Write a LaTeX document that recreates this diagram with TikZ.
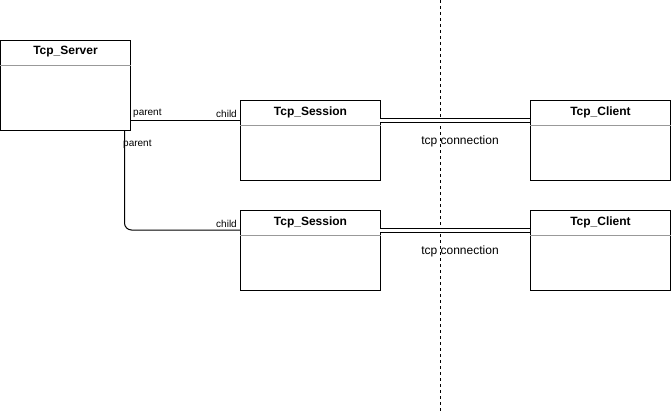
\documentclass[tikz,border=0pt]{standalone}
\usepackage{fontspec}
\setmainfont{Liberation Sans}
\begin{document}
\begin{tikzpicture}[x=1pt,y=-1pt,
  classbox/.style={draw,line width=1pt,fill=white,minimum width=#1,inner sep=0pt,anchor=north west},
  classbox/.default=140pt,
  hdr/.style={font=\fontsize{12}{14}\selectfont\bfseries},
  lbl/.style={font=\fontsize{10}{12}\selectfont,inner sep=0pt},
  conn/.style={font=\fontsize{12}{14}\selectfont,inner sep=0pt},
  divider/.style={draw=gray!80,line width=0.8pt},
  link/.style={line width=1pt},
  dbl/.style={double,double distance=3pt,line width=1pt}]
\useasboundingbox (0,0) rectangle (671,412);
\fill[white] (0,0) rectangle (671,412);
% dashed separator
\coordinate (dtop) at (440.5,0);
\coordinate (dbot) at (440.5,412);
\draw[line width=1pt,dash pattern=on 3pt off 3pt] (dtop) -- (dbot);
% boxes
\node[classbox=130pt,minimum height=90pt] (server) at (0,40) {};
\node[classbox,minimum height=80pt] (sess1) at (240,100) {};
\node[classbox,minimum height=80pt] (sess2) at (240,210) {};
\node[classbox,minimum height=80pt] (cli1) at (530,100) {};
\node[classbox,minimum height=80pt] (cli2) at (530,210) {};
% headers
\foreach \b/\t in {server/Tcp\_Server,sess1/Tcp\_Session,sess2/Tcp\_Session,cli1/Tcp\_Client,cli2/Tcp\_Client}{
  \draw[divider] ([yshift=-25pt]\b.north west) -- ([yshift=-25pt]\b.north east);
  \node[hdr] at ([yshift=-12pt]\b.north) {\t};
}
% connectors
\coordinate (p1) at (130,120);
\coordinate (c1) at (240,120);
\draw[link] (p1) -- (c1);
\node[lbl,anchor=south west] at ([xshift=3pt,yshift=2pt]p1) {parent};
\node[lbl,anchor=south east] at ([xshift=-3pt,yshift=2.5pt]c1) {child};
\coordinate (p2) at (124.5,130);
\coordinate (c2) at (240,230);
\draw[link,rounded corners=7pt] (p2) |- (c2);
\node[lbl,anchor=north west] at ([xshift=-1.5pt,yshift=-9.5pt]p2) {parent};
\node[lbl,anchor=south east] at ([xshift=-3pt,yshift=2.5pt]c2) {child};
% tcp connections
\coordinate (s1e) at (380,120);
\coordinate (k1w) at (530,120);
\draw[dbl] (s1e) -- (k1w);
\node[conn] at (460,141) {tcp connection};
\coordinate (s2e) at (380,230);
\coordinate (k2w) at (530,230);
\draw[dbl] (s2e) -- (k2w);
\node[conn] at (460,251) {tcp connection};
\end{tikzpicture}
\end{document}
